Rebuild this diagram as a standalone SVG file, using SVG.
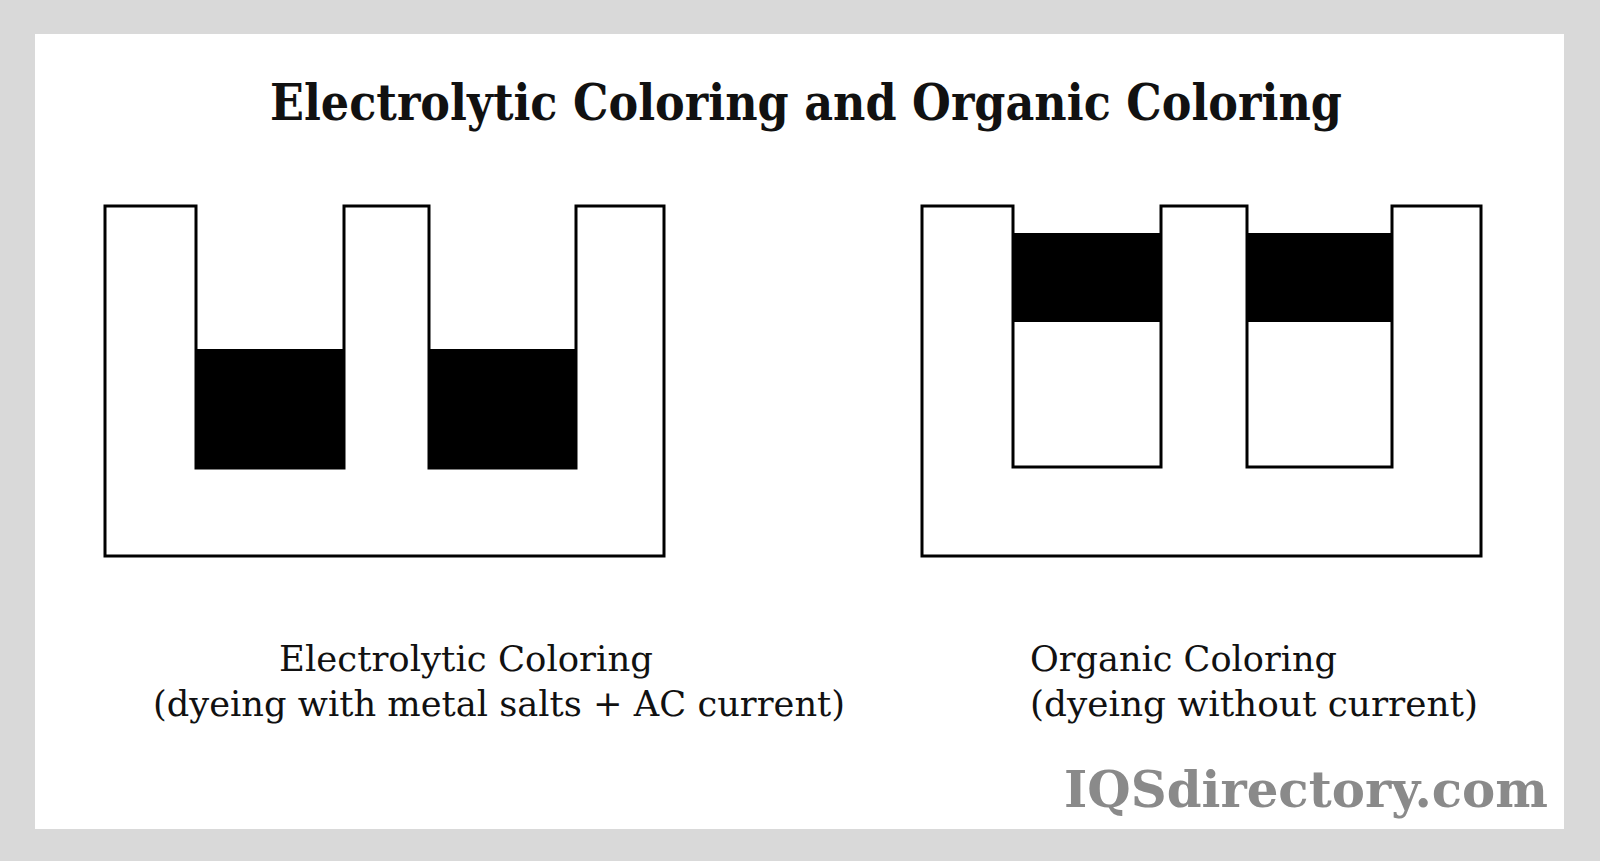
<svg xmlns="http://www.w3.org/2000/svg" width="1600" height="861" viewBox="0 0 1600 861">
<style>
.frame{fill:#d9d9d9}
.panel{fill:#ffffff}
.outline{fill:#ffffff;stroke:#000;stroke-width:3;stroke-linejoin:miter}
.dye{fill:#000}
.title{font-family:"DejaVu Serif","Liberation Serif",serif;font-weight:bold;font-size:50px;fill:#111}
.label{font-family:"DejaVu Serif","Liberation Serif",serif;font-size:36px;fill:#111}
.wm{font-family:"DejaVu Serif","Liberation Serif",serif;font-weight:bold;font-size:51px;fill:#8a8a8a}
</style>
<rect class="frame" x="0" y="0" width="1600" height="861"/>
<rect class="panel" x="35" y="34" width="1529" height="795"/>
<text class="title" x="806" y="120" text-anchor="middle" textLength="1072" lengthAdjust="spacingAndGlyphs">Electrolytic Coloring and Organic Coloring</text>
<g id="electrolytic">
<path class="outline" d="M105,206 H196 V468 H344 V206 H429 V468 H576 V206 H664 V556 H105 Z"/>
<rect class="dye" x="195" y="349" width="150" height="120"/>
<rect class="dye" x="428" y="349" width="149" height="120"/>
</g>
<g id="organic">
<path class="outline" d="M922,206 H1013 V467 H1161 V206 H1247 V467 H1392 V206 H1481 V556 H922 Z"/>
<rect class="dye" x="1013" y="233" width="148" height="89"/>
<rect class="dye" x="1247" y="233" width="145" height="89"/>
</g>
<g id="labels">
<text class="label" x="279" y="671" textLength="374" lengthAdjust="spacingAndGlyphs">Electrolytic Coloring</text>
<text class="label" x="153" y="716" textLength="692" lengthAdjust="spacingAndGlyphs">(dyeing with metal salts + AC current)</text>
<text class="label" x="1030" y="671" textLength="307" lengthAdjust="spacingAndGlyphs">Organic Coloring</text>
<text class="label" x="1030" y="716" textLength="448" lengthAdjust="spacingAndGlyphs">(dyeing without current)</text>
</g>
<g id="connectors"/>
<text class="wm" x="1064" y="807" textLength="484" lengthAdjust="spacingAndGlyphs">IQSdirectory.com</text>
</svg>
